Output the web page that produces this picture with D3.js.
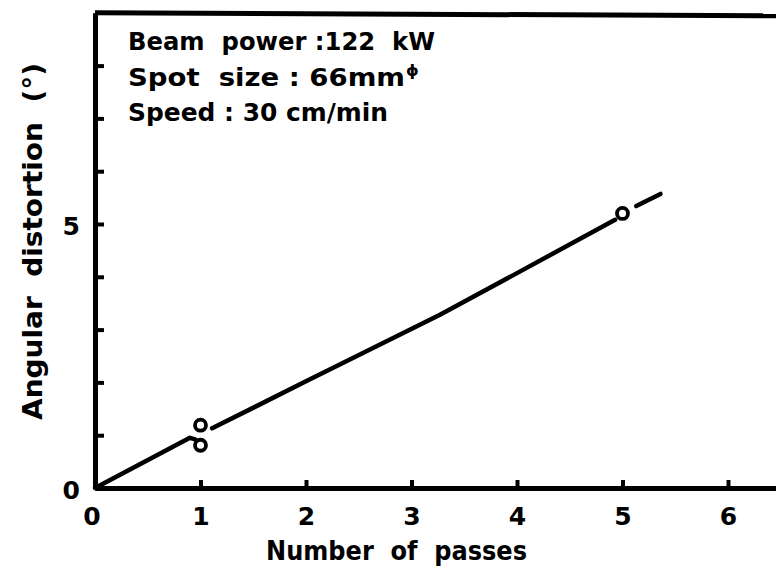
<!DOCTYPE html>
<html>
<head>
<meta charset="utf-8">
<script src="https://cdn.jsdelivr.net/npm/d3@7/dist/d3.min.js"></script>
<style>
  html, body { margin: 0; padding: 0; background: #fff; }
  svg { display: block; }
  text { font-family: "DejaVu Sans", sans-serif; font-weight: bold; fill: #000; }
</style>
</head>
<body>
<svg id="chart" width="776" height="568"></svg>
<script>
// Measured points: angular distortion after a given number of passes
const passes = [1, 1, 5];
const distortion = [0.81, 1.19, 5.20];

// Hand-drawn trend line, in pieces (origin -> first pass, then onward)
const trendLowX = [0, 0.90, 0.95];
const trendLowY = [0, 0.95, 0.92];
const trendHighX = [1.11, 2.0, 3.27, 4.0, 4.93];
const trendHighY = [1.13, 2.02, 3.28, 4.07, 5.08];
const trendTailX = [5.13, 5.36];
const trendTailY = [5.34, 5.57];

// Axis ticks
const xTicks = [1, 2, 3, 4, 5, 6];
const xTickLabels = ["1", "2", "3", "4", "5", "6"];
const yTicks = [0, 1, 2, 3, 4, 5, 6, 7, 8];
const yTickLabels = ["0", "", "", "", "", "5", "", "", ""];

// Welding conditions
const conditions = ["Beam  power :122  kW", "Spot  size : 66mm", "Speed : 30 cm/min"];

(function draw() {
  const svg = d3.select("#chart");
  const plotLeft = 95, plotBottom = 488, plotRight = 776, plotTop = 12.8;

  const x = d3.scaleLinear().domain([0, 6.455]).range([plotLeft, plotRight]);
  const y = d3.scaleLinear().domain([0, 9]).range([plotBottom, plotTop]);

  // X axis (ticks point up into the plot)
  const xAxis = svg.append("g")
    .attr("transform", `translate(0,${plotBottom})`)
    .call(d3.axisBottom(x)
      .tickValues(xTicks)
      .tickFormat((d, i) => xTickLabels[i])
      .tickSizeInner(-8)
      .tickSizeOuter(0)
      .tickPadding(19));
  xAxis.attr("font-family", null).attr("font-size", null);
  xAxis.select(".domain").attr("stroke", "#000").attr("stroke-width", 5);
  xAxis.selectAll(".tick line").attr("stroke", "#000").attr("stroke-width", 4);
  xAxis.selectAll(".tick text").style("font-size", "25px");

  // "0" at the origin of the x axis
  svg.append("text")
    .attr("x", x(0) - 3).attr("y", plotBottom + 19).attr("dy", "0.71em")
    .attr("text-anchor", "middle").style("font-size", "25px").text("0");

  // Y axis (ticks point right into the plot)
  const yAxis = svg.append("g")
    .attr("transform", `translate(${plotLeft},0)`)
    .call(d3.axisLeft(y)
      .tickValues(yTicks)
      .tickFormat((d, i) => yTickLabels[i])
      .tickSizeInner(-9)
      .tickSizeOuter(0)
      .tickPadding(15));
  yAxis.attr("font-family", null).attr("font-size", null);
  yAxis.select(".domain").attr("stroke", "#000").attr("stroke-width", 5);
  yAxis.selectAll(".tick line").attr("stroke", "#000").attr("stroke-width", 4);
  yAxis.selectAll(".tick text").style("font-size", "25px").attr("dy", "0.42em");

  // Top frame line
  svg.append("line")
    .attr("x1", x(0)).attr("x2", plotRight)
    .attr("y1", y(9)).attr("y2", y(9) + 3)
    .attr("stroke", "#000").attr("stroke-width", 5);

  // Trend line
  const line = d3.line().x(d => x(d[0])).y(d => y(d[1]));
  [[trendLowX, trendLowY], [trendHighX, trendHighY], [trendTailX, trendTailY]].forEach(([xs, ys]) => {
    svg.append("path")
      .datum(xs.map((v, i) => [v, ys[i]]))
      .attr("d", line)
      .attr("fill", "none")
      .attr("stroke", "#000")
      .attr("stroke-width", 4.5)
      .attr("stroke-linecap", "round")
      .attr("stroke-linejoin", "round");
  });

  // Data points: open circles
  svg.selectAll("circle.pt")
    .data(passes.map((p, i) => [p, distortion[i]]))
    .join("circle")
    .attr("class", "pt")
    .attr("cx", d => x(d[0]))
    .attr("cy", d => y(d[1]))
    .attr("r", 5.5)
    .attr("fill", "#fff")
    .attr("stroke", "#000")
    .attr("stroke-width", 3.8);

  // Conditions text block
  const condLengths = [307, 277, 260];
  const condBaselines = [50, 86, 121];
  conditions.forEach((t, i) => {
    svg.append("text")
      .attr("x", 128).attr("y", condBaselines[i])
      .attr("xml:space", "preserve")
      .attr("textLength", condLengths[i])
      .attr("lengthAdjust", "spacingAndGlyphs")
      .style("font-size", "25px")
      .text(t);
  });
  // diameter mark after "66mm"
  svg.append("text")
    .attr("x", 128 + condLengths[1] + 1).attr("y", condBaselines[1] - 10)
    .style("font-size", "16px")
    .text("ϕ");

  // Axis titles
  svg.append("text")
    .attr("x", 266).attr("y", 560)
    .attr("xml:space", "preserve")
    .attr("textLength", 261)
    .attr("lengthAdjust", "spacingAndGlyphs")
    .style("font-size", "26px")
    .text("Number  of  passes");

  svg.append("text")
    .attr("transform", "translate(42,420) rotate(-90)")
    .attr("xml:space", "preserve")
    .attr("textLength", 357)
    .attr("lengthAdjust", "spacingAndGlyphs")
    .style("font-size", "27px")
    .text("Angular  distortion  (°)");
})();
</script>
</body>
</html>
